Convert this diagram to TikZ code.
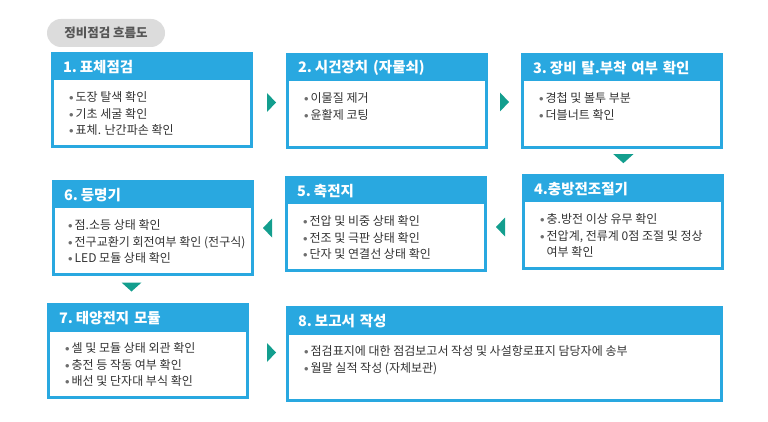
\documentclass[tikz,border=0pt]{standalone}
\usepackage{fontspec}
\setmainfont{Noto Sans CJK KR}
\usepackage{xcolor}
\usetikzlibrary{calc}

\definecolor{hblue}{HTML}{29A8E0}
\definecolor{tgreen}{HTML}{139E8E}
\definecolor{txtgray}{HTML}{333333}
\definecolor{dotgray}{HTML}{6E6E6E}
\definecolor{pillgray}{HTML}{DCDCDC}
\definecolor{pilltext}{HTML}{555555}

\newcommand{\itm}{\textcolor{dotgray}{\raisebox{0.15ex}{\scalebox{0.75}{$\bullet$}}}\hspace{2pt}}
\newcommand{\itmgap}{\phantom{\itm}}
\newcommand{\nsp}{\hspace{3pt}}

\begin{document}
\begin{tikzpicture}[x=1pt,y=-1pt,
	frame/.style={draw=hblue,line width=3pt,fill=white,anchor=north west,
		inner sep=0pt,outer sep=0pt,minimum width=199pt,minimum height=93pt},
	head/.style={fill=hblue,text=white,anchor=north west,outer sep=0pt,
		inner xsep=10.5pt,inner ysep=0pt,minimum height=27pt,text width=178pt,
		align=left,font=\bfseries\fontsize{14.5}{16}\selectfont},
	list/.style={anchor=north west,inner sep=0pt,align=left,text=txtgray,
		font=\fontsize{12}{16.5}\selectfont},
	pill/.style={fill=pillgray,rounded corners=14pt,minimum width=118pt,
		minimum height=28pt,inner sep=0pt,text=pilltext,
		font=\bfseries\fontsize{12.5}{14}\selectfont},
	rarr/.pic={\fill[tgreen] (-4.5,-9.5) -- (4.5,0) -- (-4.5,9.5) -- cycle;},
	larr/.pic={\fill[tgreen] (4.5,-9.5) -- (-4.5,0) -- (4.5,9.5) -- cycle;},
	darr/.pic={\fill[tgreen] (-10,-4.5) -- (10,-4.5) -- (0,4.5) -- cycle;}]

	\useasboundingbox (0,0) rectangle (768,422);

	\node[pill] (title) at (106,33) {정비점검 흐름도};

	% row 1
	\node[frame] (f1) at (52.5,53.5) {};
	\node[head] (h1) at (f1.north west) {1.\nsp 표체점검};
	\node[list] (t1) at ($(h1.south west)+(16.5,11)$)
		{\itm 도장 탈색 확인\\ \itm 기초 세굴 확인\\ \itm 표체. 난간파손 확인};

	\node[frame] (f2) at (287.5,54.5) {};
	\node[head] (h2) at (f2.north west) {2.\nsp 시건장치 (자물쇠)};
	\node[list] (t2) at ($(h2.south west)+(16.5,11)$)
		{\itm 이물질 제거\\ \itm 윤활제 코팅};

	\node[frame] (f3) at (522.5,54.5) {};
	\node[head] (h3) at (f3.north west) {3.\nsp 장비 탈.부착 여부 확인};
	\node[list] (t3) at ($(h3.south west)+(16.5,11)$)
		{\itm 경첩 및 볼투 부분\\ \itm 더블너트 확인};

	% row 2
	\node[frame] (f4) at (523.5,175.5) {};
	\node[head] (h4) at (f4.north west) {4.충방전조절기};
	\node[list] (t4) at ($(h4.south west)+(16.5,11)$)
		{\itm 충.방전 이상 유무 확인\\ \itm 전압계, 전류계 0점 조절 및 정상\\ \itmgap 여부 확인};

	\node[frame] (f5) at (286.5,177.5) {};
	\node[head] (h5) at (f5.north west) {5.\nsp 축전지};
	\node[list] (t5) at ($(h5.south west)+(16.5,11)$)
		{\itm 전압 및 비중 상태 확인\\ \itm 전조 및 극판 상태 확인\\ \itm 단자 및 연결선 상태 확인};

	\node[frame] (f6) at (53.5,181.5) {};
	\node[head] (h6) at (f6.north west) {6.\nsp 등명기};
	\node[list] (t6) at ($(h6.south west)+(14.5,11)$)
		{\itm 점.소등 상태 확인\\ \itm 전구교환기 회전여부 확인 (전구식)\\ \itm LED 모듈 상태 확인};

	% row 3
	\node[frame] (f7) at (48.5,304.5) {};
	\node[head] (h7) at (f7.north west) {7.\nsp 태양전지 모듈};
	\node[list] (t7) at ($(h7.south west)+(16.5,11)$)
		{\itm 셀 및 모듈 상태 외관 확인\\ \itm 충전 등 작동 여부 확인\\ \itm 배선 및 단자대 부식 확인};

	\node[frame,minimum width=434pt] (f8) at (287.5,307.5) {};
	\node[head,text width=413pt] (h8) at (f8.north west) {8.\nsp 보고서 작성};
	\node[list] (t8) at ($(h8.south west)+(16.5,11)$)
		{\itm 점검표지에 대한 점검보고서 작성 및 사설항로표지 담당자에 송부\\ \itm 월말 실적 작성 (자체보관)};

	% flow marks
	\coordinate (a12) at ($(f1.east)!.5!(f2.west)+(2,2)$);
	\coordinate (a23) at ($(f2.east)!.5!(f3.west)+(0,1)$);
	\coordinate (a34) at ($(f3.south)!.4!(f4.north)+(1,0)$);
	\coordinate (a45) at ($(f5.east)!.5!(f4.west)+(-4,4)$);
	\coordinate (a56) at ($(f6.east)!.5!(f5.west)+(-2,2)$);
	\coordinate (a67) at (131.5,287);
	\coordinate (a78) at ($(f7.east)!.5!(f8.west)+(4,0)$);

	\pic at (a12) {rarr};
	\pic at (a23) {rarr};
	\pic at (a34) {darr};
	\pic at (a45) {larr};
	\pic at (a56) {larr};
	\pic at (a67) {darr};
	\pic at (a78) {rarr};

\end{tikzpicture}
\end{document}
